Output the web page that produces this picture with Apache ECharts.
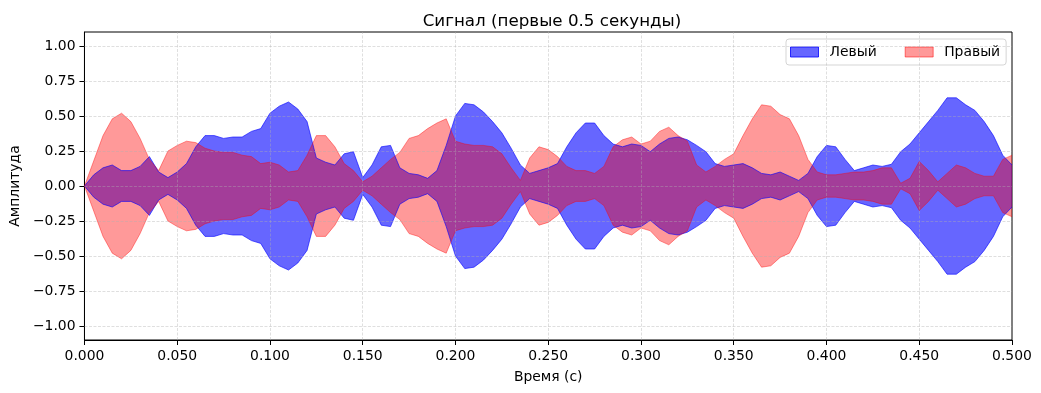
<!DOCTYPE html>
<html>
<head>
<meta charset="utf-8">
<script src="https://cdn.jsdelivr.net/npm/echarts@6/dist/echarts.min.js"></script>
<style>html,body{margin:0;padding:0;background:#fff;}#c{width:1041px;height:393px;}</style>
</head>
<body>
<div id="c"></div>
<script>
const times = [0,0.005,0.01,0.015,0.02,0.025,0.03,0.035,0.04,0.045,0.05,0.055,0.06,0.065,0.07,0.075,0.08,0.085,0.09,0.095,0.1,0.105,0.11,0.115,0.12,0.125,0.13,0.135,0.14,0.145,0.15,0.155,0.16,0.165,0.17,0.175,0.18,0.185,0.19,0.195,0.2,0.205,0.21,0.215,0.22,0.225,0.23,0.235,0.24,0.245,0.25,0.255,0.26,0.265,0.27,0.275,0.28,0.285,0.29,0.295,0.3,0.305,0.31,0.315,0.32,0.325,0.33,0.335,0.34,0.345,0.35,0.355,0.36,0.365,0.37,0.375,0.38,0.385,0.39,0.395,0.4,0.405,0.41,0.415,0.42,0.425,0.43,0.435,0.44,0.445,0.45,0.455,0.46,0.465,0.47,0.475,0.48,0.485,0.49,0.495,0.5];
const leftEnv = [0,0.08,0.13,0.15,0.11,0.11,0.14,0.21,0.10,0.06,0.10,0.16,0.28,0.36,0.36,0.34,0.35,0.35,0.39,0.41,0.52,0.57,0.60,0.55,0.46,0.20,0.17,0.15,0.23,0.245,0.06,0.15,0.28,0.29,0.13,0.09,0.08,0.055,0.11,0.29,0.50,0.59,0.58,0.53,0.46,0.38,0.27,0.15,0.09,0.11,0.13,0.16,0.28,0.38,0.45,0.45,0.36,0.30,0.28,0.30,0.29,0.245,0.30,0.34,0.35,0.33,0.29,0.245,0.16,0.14,0.15,0.16,0.13,0.09,0.08,0.10,0.07,0.04,0.09,0.21,0.29,0.28,0.19,0.11,0.13,0.15,0.14,0.155,0.245,0.30,0.38,0.46,0.54,0.63,0.63,0.58,0.54,0.46,0.36,0.22,0.15];
const rightEnv = [0,0.18,0.36,0.48,0.52,0.46,0.34,0.19,0.11,0.25,0.29,0.32,0.31,0.27,0.25,0.24,0.24,0.22,0.21,0.16,0.17,0.15,0.10,0.11,0.22,0.36,0.36,0.28,0.16,0.11,0.03,0.07,0.13,0.19,0.24,0.34,0.36,0.41,0.45,0.48,0.32,0.30,0.29,0.29,0.28,0.23,0.13,0.04,0.20,0.28,0.26,0.21,0.14,0.11,0.11,0.09,0.14,0.28,0.33,0.35,0.30,0.32,0.39,0.42,0.36,0.32,0.15,0.10,0.14,0.19,0.23,0.36,0.48,0.58,0.57,0.51,0.48,0.36,0.19,0.10,0.08,0.08,0.09,0.10,0.10,0.11,0.13,0.13,0.02,0.055,0.175,0.11,0.03,0.09,0.15,0.13,0.09,0.07,0.07,0.19,0.22];
const xTicks = [0,0.05,0.1,0.15,0.2,0.25,0.3,0.35,0.4,0.45,0.5];
const yTicks = [-1,-0.75,-0.5,-0.25,0,0.25,0.5,0.75,1];
const seriesNames = ['Левый','Правый'];
const titleText = 'Сигнал (первые 0.5 секунды)';
const xName = 'Время (с)';
const yName = 'Амплитуда';

const FONT = 'DejaVu Sans';
const blueFill = 'rgba(0,0,255,0.6)';
const redFill = 'rgba(255,0,0,0.4)';
function pts(env, sign){ return times.map((t,i)=>[t, sign*env[i]]); }
function areaSeries(name, env, sign, color){
  return {name:name, type:'line', data:pts(env,sign), symbol:'none', smooth:false,
    lineStyle:{color:color, width:1}, areaStyle:{color:color, opacity:1, origin:0},
    itemStyle:{color:color, borderColor:color}, silent:true, animation:false};
}
const gridLineStyle = {color:'rgba(176,176,176,0.5)', type:[3,1.5], width:0.8};
const gridMarks = xTicks.filter(v=>v>0 && v<0.5).map(v=>({xAxis:v}))
  .concat(yTicks.map(v=>({yAxis:v})));

const chart = echarts.init(document.getElementById('c'), null, {renderer:'canvas'});
chart.setOption({
  animation:false,
  backgroundColor:'#fff',
  title:{text:titleText, left:547, top:8, textAlign:'center',
    textStyle:{fontFamily:FONT, fontSize:16.7, fontWeight:'normal', color:'#000'}},
  legend:{data:[{name:seriesNames[0], itemStyle:{color:blueFill, borderColor:'rgba(0,0,255,0.8)', borderWidth:1}},
                {name:seriesNames[1], itemStyle:{color:redFill, borderColor:'rgba(255,0,0,0.5)', borderWidth:1}}],
    left:786, top:39, orient:'horizontal', icon:'rect', itemWidth:28, itemHeight:10, itemGap:28,
    padding:[6,6,6,4], borderColor:'#d5d5d5', borderWidth:1, borderRadius:3, backgroundColor:'rgba(255,255,255,0.8)',
    textStyle:{fontFamily:FONT, fontSize:13.9, color:'#000', padding:[0,0,0,6]}, selectedMode:false},
  grid:{left:82, right:29, top:32, bottom:53, show:true, borderColor:'#000', borderWidth:1, backgroundColor:'transparent'},
  xAxis:{type:'value', min:0, max:0.5, interval:0.05,
    name:xName, nameLocation:'middle', nameGap:30,
    nameTextStyle:{fontFamily:FONT, fontSize:13.9, color:'#000'},
    axisLine:{show:true, onZero:false, lineStyle:{color:'#000', width:1}},
    axisTick:{show:true, length:5, lineStyle:{color:'#000'}},
    axisLabel:{formatter:v=>v.toFixed(3), fontFamily:FONT, fontSize:13.9, color:'#000', margin:9},
    splitLine:{show:false}},
  yAxis:{type:'value', min:-1.1, max:1.1,
    name:yName, nameLocation:'middle', nameGap:57,
    nameTextStyle:{fontFamily:FONT, fontSize:13.9, color:'#000'},
    axisLine:{show:true, onZero:false, lineStyle:{color:'#000', width:1}},
    axisTick:{show:true, length:5, lineStyle:{color:'#000'}, customValues:yTicks},
    axisLabel:{customValues:yTicks, formatter:v=>v.toFixed(2).replace('-','\u2212'), fontFamily:FONT, fontSize:13.9, color:'#000', margin:9},
    splitLine:{show:false}},
  series:[
    areaSeries(seriesNames[0], leftEnv, 1, blueFill),
    areaSeries(seriesNames[0], leftEnv, -1, blueFill),
    areaSeries(seriesNames[1], rightEnv, 1, redFill),
    areaSeries(seriesNames[1], rightEnv, -1, redFill),
    {name:'grid', type:'line', data:[], z:5, silent:true,
      markLine:{silent:true, symbol:['none','none'], label:{show:false}, lineStyle:gridLineStyle, animation:false, data:gridMarks}}
  ]
});
</script>
</body>
</html>
